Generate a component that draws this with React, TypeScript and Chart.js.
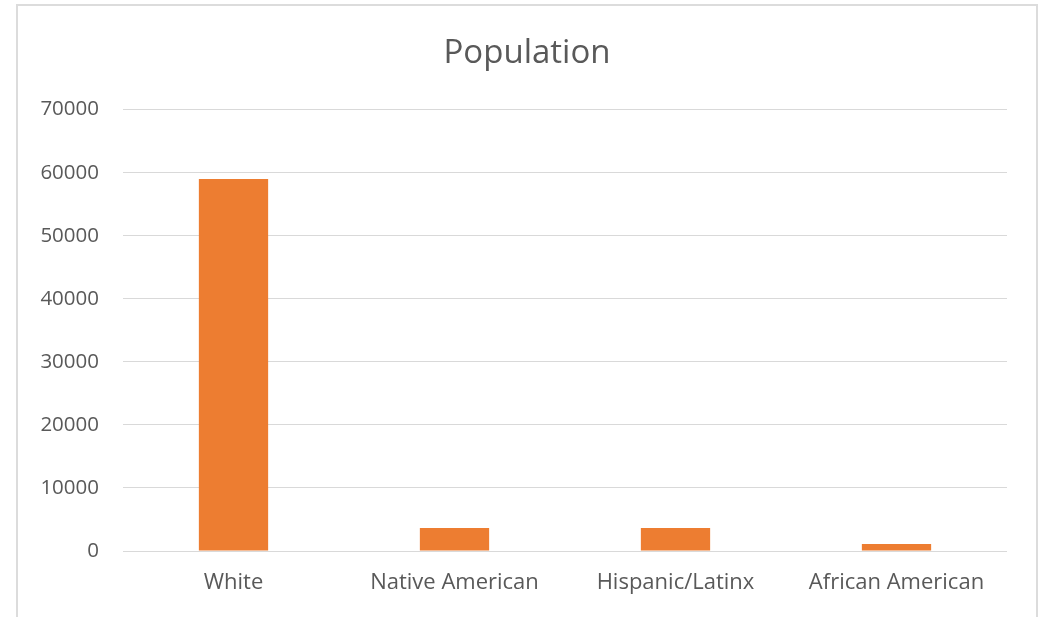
import React, { useEffect, useRef } from "react";
import { Chart, registerables } from "chart.js";

Chart.register(...registerables);

const categories = ["White", "Native American", "Hispanic/Latinx", "African American"];
const population = [59000, 3650, 3650, 1100];
const yTicks = [0, 10000, 20000, 30000, 40000, 50000, 60000, 70000];
const chartTitle = "Population";

export default function App() {
  const ref = useRef<HTMLCanvasElement | null>(null);

  useEffect(() => {
    if (!ref.current) return;
    const chart = new Chart(ref.current, {
      type: "bar",
      data: {
        labels: categories,
        datasets: [
          {
            label: chartTitle,
            data: population,
            backgroundColor: "#ED7D31",
            borderWidth: 0,
            barPercentage: 0.3135,
            categoryPercentage: 1,
          },
        ],
      },
      options: {
        animation: false,
        responsive: false,
        maintainAspectRatio: false,
        layout: { padding: { top: 34, right: 0, bottom: 0, left: 3 } },
        plugins: {
          legend: { display: false },
          tooltip: { enabled: false },
          title: {
            display: true,
            text: chartTitle,
            color: "#595959",
            font: { family: "'Open Sans', sans-serif", size: 33, weight: "normal", lineHeight: 1.2 },
            padding: { top: 0, bottom: 36 },
          },
        },
        scales: {
          x: {
            grid: { display: false, drawTicks: false },
            border: { display: false },
            ticks: {
              color: "#595959",
              font: { family: "'Open Sans', sans-serif", size: 22 },
              padding: 19,
              maxRotation: 0,
            },
            afterFit: (s: any) => {
              s.height = 66;
            },
          },
          y: {
            min: 0,
            max: 70000,
            afterBuildTicks: (s: any) => {
              s.ticks = yTicks.map((v) => ({ value: v }));
            },
            grid: { color: "#d9d9d9", lineWidth: 1, drawTicks: false },
            border: { display: false },
            ticks: {
              color: "#595959",
              font: { family: "'Open Sans', sans-serif", size: 20.5 },
              padding: 24,
              callback: (v: any) => String(v),
            },
            afterFit: (s: any) => {
              s.width = 120;
            },
          },
          yRight: {
            position: "right",
            min: 0,
            max: 70000,
            grid: { display: false, drawTicks: false },
            border: { display: false },
            ticks: { display: false },
            afterFit: (s: any) => {
              s.width = 44;
            },
          },
        },
      },
    });
    return () => chart.destroy();
  }, []);

  return (
    <div
      style={{
        position: "fixed",
        left: 0,
        top: 0,
        width: 1051,
        height: 617,
        overflow: "hidden",
        background: "#fff",
      }}
    >
      <div
        style={{
          position: "absolute",
          left: 16,
          top: 4,
          width: 1022,
          height: 640,
          border: "2px solid #dcdcdc",
          boxSizing: "border-box",
        }}
      />
      <canvas ref={ref} width={1051} height={617} style={{ position: "absolute", left: 0, top: 0 }} />
    </div>
  );
}
